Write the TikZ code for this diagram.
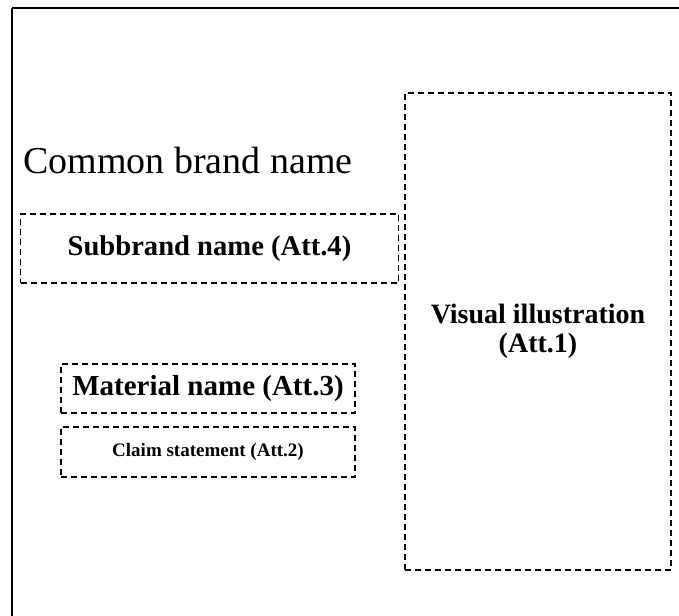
\documentclass[tikz,border=0pt]{standalone}
\usepackage{fontspec}
\setmainfont{Liberation Serif}
\begin{document}
\begin{tikzpicture}[x=1pt,y=-1pt,
  dbox/.style={draw=black, line width=1.2pt, dash pattern=on 6pt off 4pt, rectangle, inner sep=0pt, align=center, font=\bfseries},
  frame/.style={draw=black, line width=1.5pt}]
\useasboundingbox (0,0) rectangle (679,615);
\draw[frame] (12,8) -- (690,8);
\draw[frame] (12,8) -- (12,630);
\node[anchor=base west, inner sep=0pt, font=\fontsize{38}{40}\selectfont] (common) at (23,173) {Common brand name};
\node[dbox, minimum width=378pt, minimum height=69pt, font=\bfseries\fontsize{28.6}{30}\selectfont] (sub) at (209.5,248.5) {Subbrand name (Att.4)};
\node[dbox, minimum width=266pt, minimum height=477pt, font=\bfseries\fontsize{28}{29}\selectfont] (vis) at (538,331.5) {Visual illustration\\(Att.1)};
\node[dbox, minimum width=294pt, minimum height=49pt, font=\bfseries\fontsize{29}{31}\selectfont] (mat) at (208,388.5) {Material name (Att.3)};
\node[dbox, minimum width=294pt, minimum height=50pt, font=\bfseries\fontsize{19}{21}\selectfont] (claim) at (208,452) {Claim statement (Att.2)};
\end{tikzpicture}
\end{document}
